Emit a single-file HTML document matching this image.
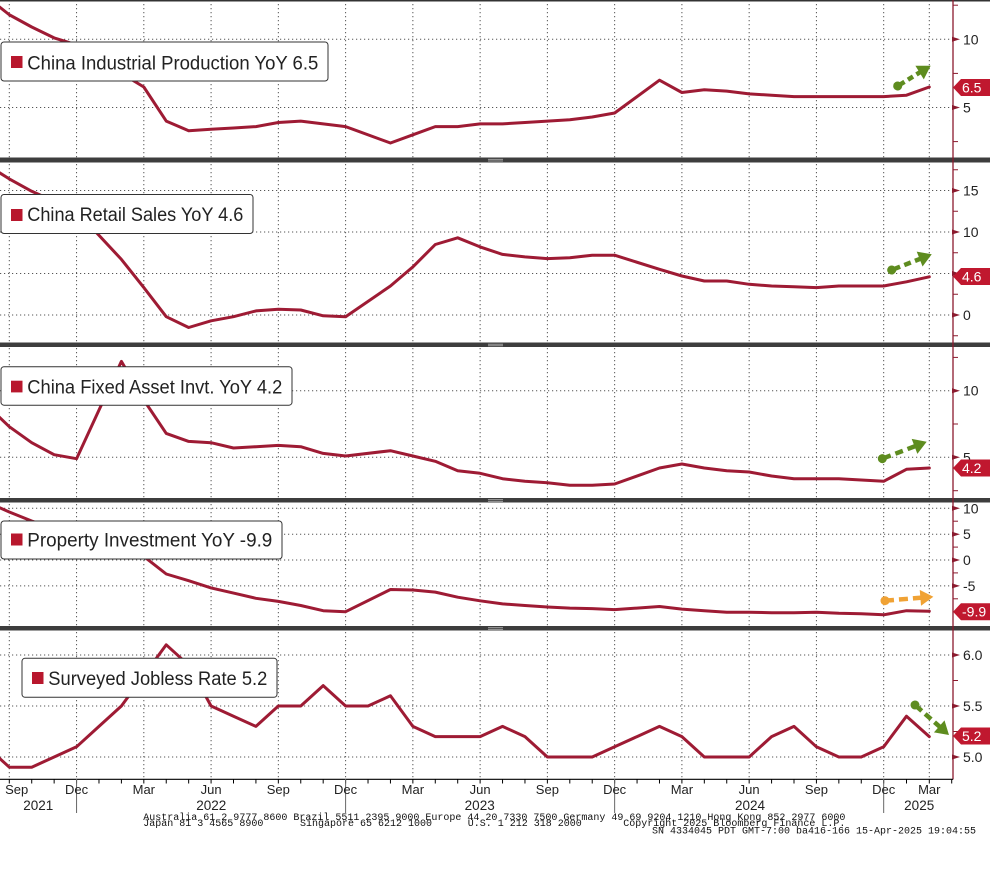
<!DOCTYPE html>
<html><head><meta charset="utf-8">
<style>
html,body{margin:0;padding:0;background:#fff;}
svg{display:block;}
text{font-family:"Liberation Sans",sans-serif;}
.mono text{font-family:"Liberation Mono",monospace;font-size:10px;fill:#111;}
.lg{font-size:19px;fill:#222;}
.ax{font-size:14px;fill:#222;}
.tg{font-size:14px;fill:#fff;}
.mo{font-size:13px;fill:#222;text-anchor:middle;}
.yr{font-size:13.5px;fill:#222;text-anchor:middle;}
</style></head><body>
<svg width="990" height="870" viewBox="0 0 990 870" xmlns="http://www.w3.org/2000/svg">
<defs>
<clipPath id="c1"><rect x="0" y="1.5" width="953" height="156"/></clipPath>
<clipPath id="c2"><rect x="0" y="162.5" width="953" height="180"/></clipPath>
<clipPath id="c3"><rect x="0" y="347" width="953" height="151"/></clipPath>
<clipPath id="c4"><rect x="0" y="502.5" width="953" height="123.5"/></clipPath>
<clipPath id="c5"><rect x="0" y="630.5" width="953" height="148.5"/></clipPath>
</defs>
<rect width="990" height="870" fill="#fff"/>

<!-- vertical grid -->
<g stroke="#555" stroke-width="1" stroke-dasharray="1.2,2.8">
<line x1="9.3" y1="0" x2="9.3" y2="779"/>
<line x1="76.56" y1="0" x2="76.56" y2="779"/>
<line x1="143.82" y1="0" x2="143.82" y2="779"/>
<line x1="211.08" y1="0" x2="211.08" y2="779"/>
<line x1="278.34" y1="0" x2="278.34" y2="779"/>
<line x1="345.6" y1="0" x2="345.6" y2="779"/>
<line x1="412.86" y1="0" x2="412.86" y2="779"/>
<line x1="480.12" y1="0" x2="480.12" y2="779"/>
<line x1="547.38" y1="0" x2="547.38" y2="779"/>
<line x1="614.64" y1="0" x2="614.64" y2="779"/>
<line x1="681.9" y1="0" x2="681.9" y2="779"/>
<line x1="749.16" y1="0" x2="749.16" y2="779"/>
<line x1="816.42" y1="0" x2="816.42" y2="779"/>
<line x1="883.68" y1="0" x2="883.68" y2="779"/>
<line x1="929.3" y1="0" x2="929.3" y2="779"/>
</g>
<!-- horizontal grid -->
<g stroke="#555" stroke-width="1" stroke-dasharray="1.2,2.8">
<line x1="0" y1="39.3" x2="953" y2="39.3"/>
<line x1="0" y1="107.5" x2="953" y2="107.5"/>
<line x1="0" y1="190.5" x2="953" y2="190.5"/>
<line x1="0" y1="232" x2="953" y2="232"/>
<line x1="0" y1="273.5" x2="953" y2="273.5"/>
<line x1="0" y1="315" x2="953" y2="315"/>
<line x1="0" y1="390.7" x2="953" y2="390.7"/>
<line x1="0" y1="457.3" x2="953" y2="457.3"/>
<line x1="0" y1="508.3" x2="953" y2="508.3"/>
<line x1="0" y1="534.2" x2="953" y2="534.2"/>
<line x1="0" y1="560" x2="953" y2="560"/>
<line x1="0" y1="585.9" x2="953" y2="585.9"/>
<line x1="0" y1="655" x2="953" y2="655"/>
<line x1="0" y1="706" x2="953" y2="706"/>
<line x1="0" y1="757" x2="953" y2="757"/>
</g>

<!-- data lines -->
<g fill="none" stroke="#9e1b34" stroke-width="3" stroke-linejoin="round" stroke-linecap="round">
<polyline clip-path="url(#c1)" points="-13.12,-3.0 9.30,14.75 31.72,27.0 54.14,37.9 76.56,44.8 121.40,73.4 143.82,87.0 166.24,121.1 188.66,130.7 211.08,129.3 233.50,128.0 255.92,126.6 278.34,122.5 300.76,121.1 323.18,123.9 345.60,126.6 390.44,143.0 412.86,134.8 435.28,126.6 457.70,126.6 480.12,123.9 502.54,123.9 524.96,122.5 547.38,121.1 569.80,119.8 592.22,117.0 614.64,113.0 659.48,80.2 681.90,92.5 704.32,89.8 726.74,91.1 749.16,93.9 771.58,95.2 794.00,96.6 816.42,96.6 838.84,96.6 861.26,96.6 883.68,96.6 906.5,95.2 929.3,87.0"/>
<polyline clip-path="url(#c2)" points="-13.12,164.8 9.30,178.9 31.72,191.3 54.14,201.3 76.56,211.25 121.40,259.4 143.82,287.6 166.24,316.7 188.66,327.5 211.08,320.8 233.50,316.7 255.92,310.9 278.34,309.2 300.76,310.0 323.18,315.8 345.60,316.7 390.44,286.0 412.86,266.9 435.28,244.5 457.70,237.8 480.12,246.9 502.54,254.4 524.96,256.9 547.38,258.6 569.80,257.7 592.22,255.2 614.64,255.2 659.48,269.35 681.90,276.0 704.32,281.0 726.74,281.0 749.16,284.3 771.58,286.0 794.00,286.8 816.42,287.6 838.84,286.0 861.26,286.0 883.68,286.0 906.5,281.8 929.3,276.8"/>
<polyline clip-path="url(#c3)" points="-13.12,405.4 9.30,426.7 31.72,442.7 54.14,454.7 76.56,458.7 121.40,361.4 143.82,400.0 166.24,433.4 188.66,441.4 211.08,442.7 233.50,448.0 255.92,446.7 278.34,445.4 300.76,446.7 323.18,453.4 345.60,456.0 390.44,450.7 412.86,456.0 435.28,461.3 457.70,470.7 480.12,473.3 502.54,478.7 524.96,481.3 547.38,482.7 569.80,485.3 592.22,485.3 614.64,484.0 659.48,468.0 681.90,464.0 704.32,468.0 726.74,470.7 749.16,472.0 771.58,476.0 794.00,478.7 816.42,478.7 838.84,478.7 861.26,480.0 883.68,481.3 906.5,469.3 929.3,468.0"/>
<polyline clip-path="url(#c4)" points="-13.12,502 9.30,512 31.72,521 54.14,528 76.56,537.3 121.40,540.9 143.82,556.4 166.24,574.0 188.66,580.7 211.08,587.9 233.50,593.1 255.92,598.3 278.34,601.4 300.76,605.5 323.18,610.7 345.60,611.7 390.44,589.5 412.86,590.0 435.28,592.1 457.70,597.2 480.12,600.8 502.54,603.9 524.96,605.5 547.38,607.0 569.80,608.1 592.22,608.6 614.64,609.6 659.48,606.5 681.90,609.1 704.32,610.7 726.74,612.2 749.16,612.2 771.58,612.7 794.00,612.7 816.42,612.2 838.84,613.3 861.26,613.8 883.68,614.8 906.5,610.7 929.3,611.2"/>
<polyline clip-path="url(#c5)" points="-13.12,746.8 9.30,767.2 31.72,767.2 54.14,757 76.56,746.8 98.98,726.4 121.40,706 143.82,675.4 166.24,644.8 188.66,665.2 211.08,706 233.50,716.2 255.92,726.4 278.34,706 300.76,706 323.18,685.6 345.60,706 368.02,706 390.44,695.8 412.86,726.4 435.28,736.6 457.70,736.6 480.12,736.6 502.54,726.4 524.96,736.6 547.38,757 569.80,757 592.22,757 614.64,746.8 637.06,736.6 659.48,726.4 681.90,736.6 704.32,757 726.74,757 749.16,757 771.58,736.6 794.00,726.4 816.42,746.8 838.84,757 861.26,757 883.68,746.8 906.5,716.2 929.3,736.6"/>
</g>

<!-- separators -->
<rect x="0" y="0" width="990" height="1.5" fill="#333"/>
<g fill="#3d3d3d">
<rect x="0" y="157.5" width="990" height="5"/>
<rect x="0" y="342.5" width="990" height="4.5"/>
<rect x="0" y="498" width="990" height="4.5"/>
<rect x="0" y="626" width="990" height="4.5"/>
</g>
<g stroke="#b5b5b5" stroke-width="0.8">
<line x1="488" y1="159.3" x2="503" y2="159.3"/><line x1="488" y1="161" x2="503" y2="161"/>
<line x1="488" y1="344.2" x2="503" y2="344.2"/><line x1="488" y1="345.8" x2="503" y2="345.8"/>
<line x1="488" y1="499.7" x2="503" y2="499.7"/><line x1="488" y1="501.3" x2="503" y2="501.3"/>
<line x1="488" y1="627.7" x2="503" y2="627.7"/><line x1="488" y1="629.3" x2="503" y2="629.3"/>
</g>

<!-- right axis -->
<line x1="953" y1="0" x2="953" y2="779.5" stroke="#8b1a2e" stroke-width="1.3"/>
<g stroke="#8b1a2e" stroke-width="1">
<line x1="953" y1="5.2" x2="958" y2="5.2"/>
<line x1="953" y1="73.4" x2="958" y2="73.4"/>
<line x1="953" y1="141.6" x2="958" y2="141.6"/>
<line x1="953" y1="169.75" x2="958" y2="169.75"/>
<line x1="953" y1="211.25" x2="958" y2="211.25"/>
<line x1="953" y1="252.75" x2="958" y2="252.75"/>
<line x1="953" y1="294.25" x2="958" y2="294.25"/>
<line x1="953" y1="335.75" x2="958" y2="335.75"/>
<line x1="953" y1="357.4" x2="958" y2="357.4"/>
<line x1="953" y1="424" x2="958" y2="424"/>
<line x1="953" y1="490.7" x2="958" y2="490.7"/>
<line x1="953" y1="521.2" x2="958" y2="521.2"/>
<line x1="953" y1="547.1" x2="958" y2="547.1"/>
<line x1="953" y1="572.9" x2="958" y2="572.9"/>
<line x1="953" y1="598.8" x2="958" y2="598.8"/>
<line x1="953" y1="680.5" x2="958" y2="680.5"/>
<line x1="953" y1="731.5" x2="958" y2="731.5"/>
</g>
<g fill="#8b1a2e">
<polygon points="952,36.8 960,39.3 952,41.8"/>
<polygon points="952,105 960,107.5 952,110"/>
<polygon points="952,188 960,190.5 952,193"/>
<polygon points="952,229.5 960,232 952,234.5"/>
<polygon points="952,271 960,273.5 952,276"/>
<polygon points="952,312.5 960,315 952,317.5"/>
<polygon points="952,388.2 960,390.7 952,393.2"/>
<polygon points="952,454.8 960,457.3 952,459.8"/>
<polygon points="952,505.8 960,508.3 952,510.8"/>
<polygon points="952,531.7 960,534.2 952,536.7"/>
<polygon points="952,557.5 960,560 952,562.5"/>
<polygon points="952,583.4 960,585.9 952,588.4"/>
<polygon points="952,652.5 960,655 952,657.5"/>
<polygon points="952,703.5 960,706 952,708.5"/>
<polygon points="952,754.5 960,757 952,759.5"/>
</g>
<g class="ax">
<text x="963" y="44.3">10</text>
<text x="963" y="112.5">5</text>
<text x="963" y="195.5">15</text>
<text x="963" y="237">10</text>
<text x="963" y="278.5">5</text>
<text x="963" y="320">0</text>
<text x="963" y="395.7">10</text>
<text x="963" y="462.3">5</text>
<text x="963" y="513.3">10</text>
<text x="963" y="539.2">5</text>
<text x="963" y="565">0</text>
<text x="963" y="590.9">-5</text>
<text x="963" y="660">6.0</text>
<text x="963" y="711">5.5</text>
<text x="963" y="762">5.0</text>
</g>

<!-- value tags -->
<g fill="#c0182f">
<polygon points="953,87.5 961,79 990,79 990,96 961,96"/>
<polygon points="953,276.5 961,268 990,268 990,285 961,285"/>
<polygon points="953,468 961,459.5 990,459.5 990,476.5 961,476.5"/>
<polygon points="953,611.7 961,603.2 990,603.2 990,620.2 961,620.2"/>
<polygon points="953,736 961,727.5 990,727.5 990,744.5 961,744.5"/>
</g>
<g class="tg">
<text x="962" y="92.5">6.5</text>
<text x="962" y="281.5">4.6</text>
<text x="962" y="473">4.2</text>
<text x="962" y="616.7">-9.9</text>
<text x="962" y="741">5.2</text>
</g>

<!-- arrows -->
<g fill="#5e8c1f" stroke="#5e8c1f" stroke-width="4.5">
<g transform="translate(897.7,86) rotate(-31.6)">
<circle r="4.5" stroke="none"/><line x1="0" y1="0" x2="8" y2="0"/><line x1="12" y1="0" x2="18" y2="0"/><line x1="22" y1="0" x2="27" y2="0"/><polygon stroke="none" points="25.7,-8 38.7,0 25.7,8"/>
</g>
<g transform="translate(891.7,270) rotate(-21.4)">
<circle r="4.5" stroke="none"/><line x1="0" y1="0" x2="9" y2="0"/><line x1="13.5" y1="0" x2="20.5" y2="0"/><line x1="25" y1="0" x2="31" y2="0"/><polygon stroke="none" points="30,-8 43,0 30,8"/>
</g>
<g transform="translate(882.3,458.7) rotate(-20.9)">
<circle r="4.5" stroke="none"/><line x1="0" y1="0" x2="9" y2="0"/><line x1="14" y1="0" x2="22" y2="0"/><line x1="27" y1="0" x2="36" y2="0"/><polygon stroke="none" points="34.5,-8 47.5,0 34.5,8"/>
</g>
<g transform="translate(915,705) rotate(41.4)">
<circle r="4.5" stroke="none"/><line x1="0" y1="0" x2="9" y2="0"/><line x1="13.5" y1="0" x2="21.5" y2="0"/><line x1="26" y1="0" x2="34" y2="0"/><polygon stroke="none" points="32.3,-8 45.3,0 32.3,8"/>
</g>
</g>
<g fill="#f0a234" stroke="#f0a234" stroke-width="4.5">
<g transform="translate(885,600.7) rotate(-4.7)">
<circle r="4.5" stroke="none"/><line x1="0" y1="0" x2="9" y2="0"/><line x1="14" y1="0" x2="23" y2="0"/><line x1="28" y1="0" x2="37" y2="0"/><polygon stroke="none" points="35.5,-8 48.5,0 35.5,8"/>
</g>
</g>

<!-- legends -->
<g fill="#fff" stroke="#333" stroke-width="1">
<rect x="1" y="42" width="327" height="39" rx="3"/>
<rect x="1" y="194.5" width="252" height="39" rx="3"/>
<rect x="1" y="366.7" width="291" height="38.5" rx="3"/>
<rect x="1" y="521" width="281" height="38" rx="3"/>
<rect x="22" y="658.3" width="255" height="39" rx="3"/>
</g>
<g fill="#b8172d">
<rect x="11" y="56" width="11.5" height="12"/>
<rect x="11" y="209" width="11.5" height="12"/>
<rect x="11" y="380.7" width="11.5" height="11.7"/>
<rect x="11" y="533.5" width="11.5" height="12"/>
<rect x="32" y="672" width="11.5" height="12"/>
</g>
<g class="lg">
<text x="27.3" y="69.5" textLength="291" lengthAdjust="spacingAndGlyphs">China Industrial Production YoY 6.5</text>
<text x="27.3" y="221" textLength="216" lengthAdjust="spacingAndGlyphs">China Retail Sales YoY 4.6</text>
<text x="27.3" y="393.5" textLength="255" lengthAdjust="spacingAndGlyphs">China Fixed Asset Invt. YoY 4.2</text>
<text x="27.3" y="546.7" textLength="245" lengthAdjust="spacingAndGlyphs">Property Investment YoY -9.9</text>
<text x="48.3" y="685" textLength="219" lengthAdjust="spacingAndGlyphs">Surveyed Jobless Rate 5.2</text>
</g>

<!-- bottom axis -->
<line x1="0" y1="779.3" x2="953" y2="779.3" stroke="#000" stroke-width="1.2"/>
<g stroke="#000" stroke-width="1">
<line x1="9.3" y1="779" x2="9.3" y2="783.5"/><line x1="31.72" y1="779" x2="31.72" y2="783.5"/><line x1="54.14" y1="779" x2="54.14" y2="783.5"/><line x1="76.56" y1="779" x2="76.56" y2="783.5"/>
<line x1="98.98" y1="779" x2="98.98" y2="783.5"/><line x1="121.4" y1="779" x2="121.4" y2="783.5"/><line x1="143.82" y1="779" x2="143.82" y2="783.5"/><line x1="166.24" y1="779" x2="166.24" y2="783.5"/>
<line x1="188.66" y1="779" x2="188.66" y2="783.5"/><line x1="211.08" y1="779" x2="211.08" y2="783.5"/><line x1="233.5" y1="779" x2="233.5" y2="783.5"/><line x1="255.92" y1="779" x2="255.92" y2="783.5"/>
<line x1="278.34" y1="779" x2="278.34" y2="783.5"/><line x1="300.76" y1="779" x2="300.76" y2="783.5"/><line x1="323.18" y1="779" x2="323.18" y2="783.5"/><line x1="345.6" y1="779" x2="345.6" y2="783.5"/>
<line x1="368.02" y1="779" x2="368.02" y2="783.5"/><line x1="390.44" y1="779" x2="390.44" y2="783.5"/><line x1="412.86" y1="779" x2="412.86" y2="783.5"/><line x1="435.28" y1="779" x2="435.28" y2="783.5"/>
<line x1="457.7" y1="779" x2="457.7" y2="783.5"/><line x1="480.12" y1="779" x2="480.12" y2="783.5"/><line x1="502.54" y1="779" x2="502.54" y2="783.5"/><line x1="524.96" y1="779" x2="524.96" y2="783.5"/>
<line x1="547.38" y1="779" x2="547.38" y2="783.5"/><line x1="569.8" y1="779" x2="569.8" y2="783.5"/><line x1="592.22" y1="779" x2="592.22" y2="783.5"/><line x1="614.64" y1="779" x2="614.64" y2="783.5"/>
<line x1="637.06" y1="779" x2="637.06" y2="783.5"/><line x1="659.48" y1="779" x2="659.48" y2="783.5"/><line x1="681.9" y1="779" x2="681.9" y2="783.5"/><line x1="704.32" y1="779" x2="704.32" y2="783.5"/>
<line x1="726.74" y1="779" x2="726.74" y2="783.5"/><line x1="749.16" y1="779" x2="749.16" y2="783.5"/><line x1="771.58" y1="779" x2="771.58" y2="783.5"/><line x1="794" y1="779" x2="794" y2="783.5"/>
<line x1="816.42" y1="779" x2="816.42" y2="783.5"/><line x1="838.84" y1="779" x2="838.84" y2="783.5"/><line x1="861.26" y1="779" x2="861.26" y2="783.5"/><line x1="883.68" y1="779" x2="883.68" y2="783.5"/>
<line x1="906.5" y1="779" x2="906.5" y2="783.5"/><line x1="929.3" y1="779" x2="929.3" y2="783.5"/><line x1="951.7" y1="779" x2="951.7" y2="783.5"/>
</g>
<g stroke="#666" stroke-width="1">
<line x1="76.56" y1="779" x2="76.56" y2="813"/>
<line x1="345.6" y1="779" x2="345.6" y2="813"/>
<line x1="614.64" y1="779" x2="614.64" y2="813"/>
<line x1="883.68" y1="779" x2="883.68" y2="813"/>
</g>
<g class="mo">
<text x="16.7" y="794">Sep</text>
<text x="76.56" y="794">Dec</text>
<text x="143.82" y="794">Mar</text>
<text x="211.08" y="794">Jun</text>
<text x="278.34" y="794">Sep</text>
<text x="345.6" y="794">Dec</text>
<text x="412.86" y="794">Mar</text>
<text x="480.12" y="794">Jun</text>
<text x="547.38" y="794">Sep</text>
<text x="614.64" y="794">Dec</text>
<text x="681.9" y="794">Mar</text>
<text x="749.16" y="794">Jun</text>
<text x="816.42" y="794">Sep</text>
<text x="883.68" y="794">Dec</text>
<text x="929.3" y="794">Mar</text>
</g>
<g class="yr">
<text x="38.3" y="810">2021</text>
<text x="211.3" y="810">2022</text>
<text x="479.7" y="810">2023</text>
<text x="750" y="810">2024</text>
<text x="919.2" y="810">2025</text>
</g>

<!-- footer -->
<g class="mono" xml:space="preserve">
<text x="143.3" y="820">Australia 61 2 9777 8600 Brazil 5511 2395 9000 Europe 44 20 7330 7500 Germany 49 69 9204 1210 Hong Kong 852 2977 6000</text>
<text x="143.3" y="826">Japan 81 3 4565 8900</text>
<text x="300" y="826">Singapore 65 6212 1000</text>
<text x="467.7" y="826">U.S. 1 212 318 2000</text>
<text x="623.3" y="826">Copyright 2025 Bloomberg Finance L.P.</text>
<text x="652" y="833.3">SN 4334045 PDT  GMT-7:00 ba416-166 15-Apr-2025 19:04:55</text>
</g>
</svg>
</body></html>
